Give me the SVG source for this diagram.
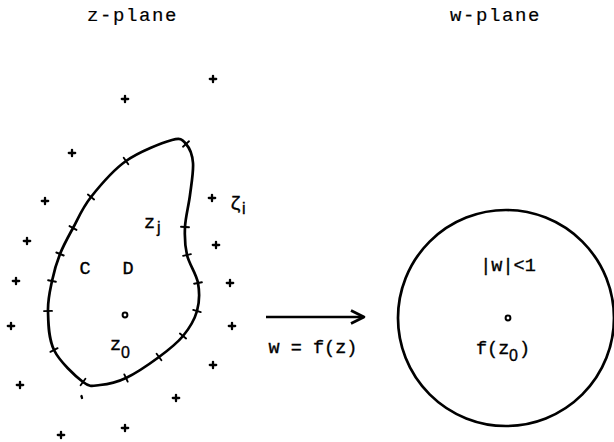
<svg xmlns="http://www.w3.org/2000/svg" width="614" height="442" viewBox="0 0 614 442">
<style>
text{font-family:"Liberation Mono","DejaVu Sans Mono",monospace;font-size:18.5px;fill:#000;stroke:#000;stroke-width:0.35}
.title{font-size:19px;letter-spacing:1.6px;stroke-width:0.2}
.sub{font-family:"Liberation Sans","DejaVu Sans",sans-serif;font-size:16px}
.curve{fill:none;stroke:#000;stroke-width:2.7;stroke-linejoin:round}
.tick{stroke:#000;stroke-width:1.9;stroke-linecap:round}
.pt{stroke:#000;stroke-width:2.3;stroke-linecap:round}
.dot{fill:none;stroke:#000;stroke-width:2}
</style>
<defs>
<g id="plus"><line class="pt" x1="-3.2" y1="0" x2="3.2" y2="0"/><line class="pt" x1="0" y1="-3.2" x2="0" y2="3.2"/></g>
</defs>
<rect width="614" height="442" fill="#fff"/>
<g id="titles">
<text class="title" x="87" y="21">z-plane</text>
<text class="title" x="450" y="21">w-plane</text>
</g>
<g id="z-domain">
<path class="curve" d="M172,140 C182,137.17 182.5,140.17 186,144 C189.5,147.83 192.33,154.5 193,163 C193.67,171.5 191.33,184.33 190,195 C188.67,205.67 185.5,217 185,227 C184.5,237 184.83,245.67 187,255 C189.17,264.33 196.33,273.67 198,283 C199.67,292.33 199.5,302.17 197,311 C194.5,319.83 189.33,328.33 183,336 C176.67,343.67 168.5,350 159,357 C149.5,364 135.830,373.33 126,378 C116.17,382.67 107.17,384.33 100,385 C92.83,385.67 90.67,387.83 83,382 C75.33,376.17 59.83,361.83 54,350 C48.17,338.17 48.33,322.5 48,311 C47.67,299.5 50,290.5 52,281 C54,271.5 56.5,262.83 60,254 C63.5,245.17 67.83,237.5 73,228 C78.17,218.5 82.17,208.17 91,197 C99.83,185.83 112.5,170.5 126,161 C139.5,151.5 162,142.83 172,140 Z"/>
<g id="ticks">
<line class="tick" x1="183" y1="146.7" x2="189" y2="141.3"/>
<line class="tick" x1="181" y1="226.8" x2="189" y2="227.2"/>
<line class="tick" x1="183.1" y1="255.9" x2="190.9" y2="254.1"/>
<line class="tick" x1="194.1" y1="283.7" x2="201.9" y2="282.3"/>
<line class="tick" x1="193.2" y1="309.9" x2="200.8" y2="312.1"/>
<line class="tick" x1="179.9" y1="333.5" x2="186.1" y2="338.5"/>
<line class="tick" x1="156.6" y1="353.8" x2="161.4" y2="360.2"/>
<line class="tick" x1="124.3" y1="374.4" x2="127.7" y2="381.6"/>
<line class="tick" x1="85.4" y1="378.8" x2="80.6" y2="385.2"/>
<line class="tick" x1="57.6" y1="348.2" x2="50.4" y2="351.8"/>
<line class="tick" x1="52" y1="310.9" x2="44" y2="311.1"/>
<line class="tick" x1="55.9" y1="281.8" x2="48.1" y2="280.2"/>
<line class="tick" x1="63.7" y1="255.5" x2="56.3" y2="252.5"/>
<line class="tick" x1="76.5" y1="229.9" x2="69.5" y2="226.1"/>
<line class="tick" x1="94.1" y1="199.5" x2="87.9" y2="194.5"/>
<line class="tick" x1="128.3" y1="164.3" x2="123.7" y2="157.7"/>
</g>
<circle class="dot" cx="125" cy="315" r="2.4"/>
<text x="85" y="274" text-anchor="middle">C</text>
<text x="128" y="274" text-anchor="middle">D</text>
<text x="144" y="228">z</text><text class="sub" x="157" y="233">j</text>
<text x="110" y="350">z</text><text class="sub" x="121" y="358">0</text>
</g>
<g id="exterior-points">
<use href="#plus" x="213" y="79"/>
<use href="#plus" x="125" y="99"/>
<use href="#plus" x="72" y="153"/>
<use href="#plus" x="45" y="201"/>
<use href="#plus" x="27" y="241"/>
<use href="#plus" x="212" y="198"/>
<use href="#plus" x="216" y="245"/>
<use href="#plus" x="16" y="281"/>
<use href="#plus" x="230" y="283"/>
<use href="#plus" x="11" y="326"/>
<use href="#plus" x="232" y="326"/>
<use href="#plus" x="213" y="365"/>
<use href="#plus" x="20" y="385"/>
<use href="#plus" x="176" y="398"/>
<use href="#plus" x="61" y="435"/>
<use href="#plus" x="125" y="428"/>
<line class="pt" x1="81.5" y1="396" x2="82" y2="398"/>
<text x="230" y="209">ζ</text><text class="sub" x="242" y="214">i</text>
</g>
<g id="w-disk">
<circle cx="506" cy="318" r="108" fill="none" stroke="#000" stroke-width="2.7"/>
<circle class="dot" cx="508" cy="318" r="2.4"/>
<text x="508" y="271" text-anchor="middle">|w|&lt;1</text>
<text x="476" y="354">f(z</text><text class="sub" x="509" y="361">0</text><text x="519" y="354">)</text>
</g>
<g id="connectors">
<line x1="266" y1="317" x2="363" y2="317" stroke="#000" stroke-width="2.7"/>
<polyline points="351,310.5 364,317 351,323.5" fill="none" stroke="#000" stroke-width="2.7" stroke-linejoin="round"/>
<text x="313" y="353" text-anchor="middle">w = f(z)</text>
</g>
</svg>
